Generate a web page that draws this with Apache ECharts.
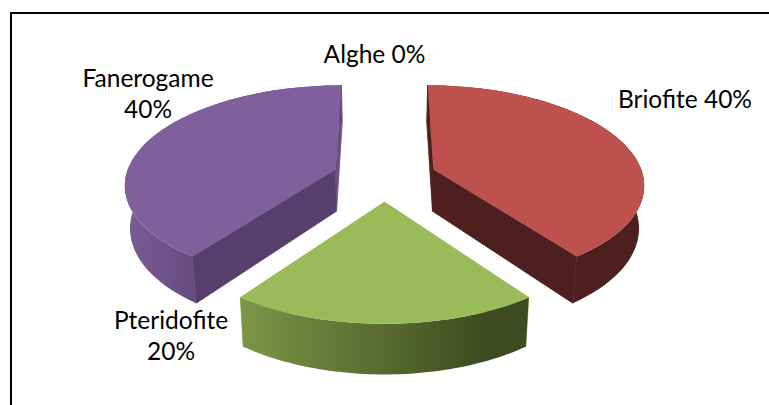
<!DOCTYPE html>
<html>
<head>
<meta charset="utf-8">
<style>
  html, body { margin: 0; padding: 0; background: #fff; }
  #chart { width: 769px; height: 405px; }
  #chart text { font-variant-ligatures: none; }
</style>
<script src="https://cdn.jsdelivr.net/npm/echarts@6/dist/echarts.min.js"></script>
</head>
<body>
<div id="chart"></div>
<script>
var categories = ['Alghe', 'Briofite', 'Pteridofite', 'Fanerogame'];
var values = [0, 40, 20, 40];

// drawing settings, same order as categories
var topColors = ['#000', '#BE504D', '#9ABB59', '#7F609C'];
var wallColors = ['#000', '#4D1F1E', '#9ABB59', '#563F6C'];
var endWallColors = ['#000', '#4D1F1E', '#9ABB59', '#6A4F86'];
var rimStops = [
  [[0, '#000'], [1, '#000']],
  [[0, '#4D1F1E'], [1, '#4D1F1E']],
  [[0, '#7C9647'], [0.85, '#3E4A20'], [1, '#3E4A20']],
  [[0, '#7A5C96'], [0.33, '#654A7F'], [1, '#654A7F']]
];
var labelCenters = [[374.5, 53], [685, 98], [171, 335], [148, 93]];
var labelBreaks = [' ', ' ', '\n', '\n'];

// fake 3d view of the pie
var view = { cx: 384.5, cy: 177, r: 210, explode: 52, tilt: 0.465, persp: 0.00065, depth: 42, narrow: 0.02 };

var total = values.reduce(function (a, b) { return a + b; }, 0);
var seriesData = [];
var sum = 0;
for (var i = 0; i < values.length; i++) {
  seriesData.push({ name: categories[i], value: [sum, values[i]] });
  sum += values[i];
}

function project(X, Y, z) {
  var p = 1 / (1 - view.persp * Y);
  var s = 1 - view.narrow * z / view.depth;
  return [view.cx + X * p * s, view.cy + view.tilt * Y * p + z * p];
}

function renderItem(params, api) {
  var idx = params.dataIndex;
  var start = api.value(0) / total * Math.PI * 2;
  var span = api.value(1) / total * Math.PI * 2;
  var children = [];

  if (span > 0) {
    var mid = start + span / 2;
    var ox = view.explode * Math.sin(mid);
    var oy = -view.explode * Math.cos(mid);
    var top = [], bottom = [];
    var steps = 60;
    for (var s = 0; s <= steps; s++) {
      var a = start + span * s / steps;
      var X = ox + view.r * Math.sin(a);
      var Y = oy - view.r * Math.cos(a);
      top.push(project(X, Y, 0));
      bottom.push(project(X, Y, view.depth));
    }
    var apexTop = project(ox, oy, 0);
    var apexBottom = project(ox, oy, view.depth);

    var rim = top.concat(bottom.slice().reverse());

    // walls go under the rim, the stroke closes the hairline between them
    children.push({
      type: 'polygon',
      shape: { points: [apexTop, top[0], bottom[0], apexBottom] },
      style: { fill: wallColors[idx], stroke: wallColors[idx], lineWidth: 0.8 }
    });
    children.push({
      type: 'polygon',
      shape: { points: [apexTop, top[steps], bottom[steps], apexBottom] },
      style: { fill: endWallColors[idx], stroke: endWallColors[idx], lineWidth: 0.8 }
    });
    children.push({
      type: 'polygon',
      shape: { points: rim },
      style: { fill: new echarts.graphic.LinearGradient(0, 0, 1, 0, rimStops[idx].map(function (st) {
        return { offset: st[0], color: st[1] };
      })) }
    });
    children.push({
      type: 'polygon',
      shape: { points: [apexTop].concat(top) },
      style: { fill: topColors[idx] }
    });
  }

  var pct = Math.round(api.value(1) / total * 100) + '%';
  children.push({
    type: 'text',
    z2: 10,
    style: {
      x: labelCenters[idx][0],
      y: labelCenters[idx][1],
      text: categories[idx] + labelBreaks[idx] + pct,
      fill: '#000',
      font: '24.5px Lato',
      lineHeight: 31,
      align: 'center',
      verticalAlign: 'middle'
    }
  });
  return { type: 'group', children: children };
}

var chart = echarts.init(document.getElementById('chart'), null, { renderer: 'svg' });
chart.setOption({
  animation: false,
  backgroundColor: '#fff',
  graphic: [
    { type: 'line', shape: { x1: 11, y1: 13, x2: 769, y2: 13 }, style: { stroke: '#000', lineWidth: 2 } },
    { type: 'line', shape: { x1: 11, y1: 12, x2: 11, y2: 405 }, style: { stroke: '#000', lineWidth: 2 } }
  ],
  series: [{
    type: 'custom',
    coordinateSystem: 'none',
    renderItem: renderItem,
    silent: true,
    data: seriesData
  }]
});
</script>
</body>
</html>
